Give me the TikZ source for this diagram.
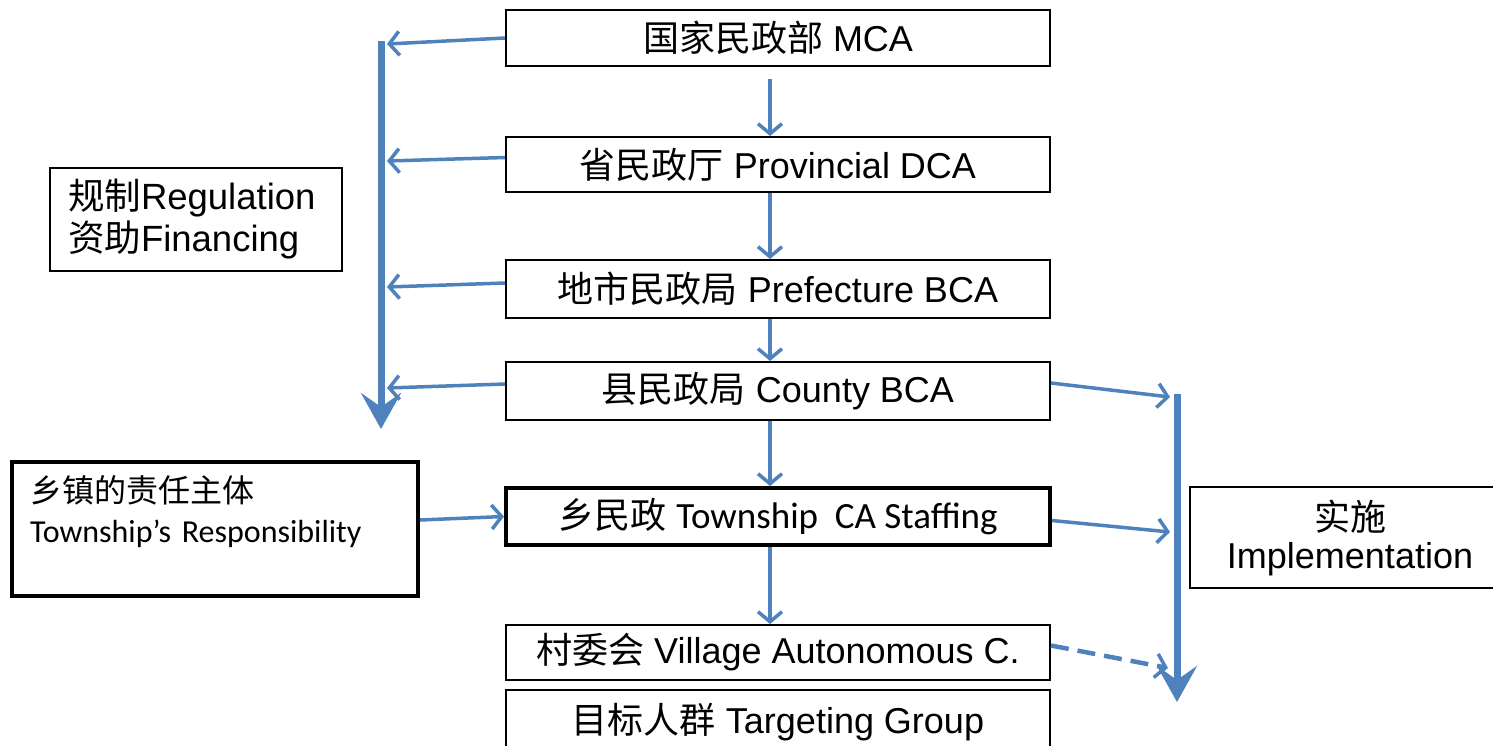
\documentclass[tikz,border=0pt]{standalone}
\usepackage{fontspec}
\setmainfont{Liberation Sans}
\newfontfamily\cjk{Noto Sans CJK SC}
\newfontfamily\calfont{Carlito}
\usetikzlibrary{arrows.meta}
\definecolor{ablue}{HTML}{4F81BD}
\begin{document}
\begin{tikzpicture}[x=1pt,y=-1pt,
  box/.style={draw, line width=2pt, minimum width=544pt, inner sep=0pt, font=\fontsize{36}{40}\selectfont},
  arr/.style={draw=ablue, line width=3.5pt, -{Straight Barb[length=10pt,width=24pt,line width=3.5pt]}},
  big/.style={draw=ablue, line width=7pt, -{Stealth[length=36pt,width=40pt,inset=14pt]}},
  sidebox/.style={draw, line width=2.2pt, inner sep=0pt}
]
\useasboundingbox (0,0) rectangle (1493,745);
% main chain
\node[box, minimum height=56pt] (mca) at (778,38) {{\cjk 国家民政部} MCA};
\node[box, minimum height=55pt] (prov) at (778,164.5) {{\cjk 省民政厅} Provincial DCA};
\node[box, minimum height=58pt] (pref) at (778,289) {{\cjk 地市民政局} Prefecture BCA};
\node[box, minimum height=58pt] (county) at (778,391) {{\cjk 县民政局} County BCA};
\node[box, line width=4pt, minimum height=57pt] (town) at (778,516.5) {{\cjk 乡民政} {\calfont\fontsize{37}{40}\selectfont Township\ \ CA Staffing}};
\node[box, minimum height=55pt] (vill) at (778,652.5) {{\cjk 村委会} Village Autonomous C.};
\node[box, minimum height=64pt] (targ) at (778,722) {{\cjk 目标人群} Targeting Group};
% side boxes
\node[sidebox, minimum width=292pt, minimum height=103pt, text width=256pt, align=left,
  font=\fontsize{36.5}{42}\selectfont] (reg) at (196,219.5)
  {{\cjk 规制}Regulation\\{\cjk 资助}Financing};
\node[sidebox, line width=4pt, minimum width=406pt, minimum height=134pt, text width=370pt, align=left,
  font=\fontsize{32}{40}\selectfont] (tresp) at (215,529)
  {{\cjk 乡镇的责任主体}\\{\calfont Township’s Responsibility}\\\mbox{}};
\node[sidebox, line width=1.8pt, minimum width=320pt, minimum height=101pt, align=center,
  font=\fontsize{36}{38}\selectfont] (impl) at (1350,537.5)
  {{\cjk 实施}\\Implementation};
% left trunk
\coordinate (lt) at (381,41);
\coordinate (lb) at (381,429);
\coordinate (l1) at (387,44);
\coordinate (l2) at (387,161);
\coordinate (l3) at (387,287);
\coordinate (l4) at (387,388);
\draw[big] (lt) -- (lb);
\draw[arr] (mca.west) -- (l1);
\draw[arr] ([yshift=7pt]prov.west) -- (l2);
\draw[arr] ([yshift=6pt]pref.west) -- (l3);
\draw[arr] ([yshift=7pt]county.west) -- (l4);
% right trunk
\coordinate (rt) at (1177,394);
\coordinate (rb) at (1177,702);
\coordinate (r1) at (1170,397);
\coordinate (r2) at (1170,532);
\coordinate (r3) at (1168,668);
\draw[big] (rt) -- (rb);
\draw[arr] ([yshift=8pt]county.east) -- (r1);
\draw[arr] ([yshift=-4pt]town.east) -- (r2);
\draw[arr, line width=4.5pt, dash pattern=on 18pt off 9pt] ([yshift=7pt]vill.east) -- (r3);
% down arrows
\draw[arr, shorten <=12pt] ([xshift=-8pt]mca.south) -- ([xshift=-8pt]prov.north);
\draw[arr] ([xshift=-8pt]prov.south) -- ([xshift=-8pt]pref.north);
\draw[arr] ([xshift=-8pt]pref.south) -- ([xshift=-8pt]county.north);
\draw[arr] ([xshift=-8pt]county.south) -- ([xshift=-8pt]town.north);
\draw[arr] ([xshift=-8pt]town.south) -- ([xshift=-8pt]vill.north);
% township responsibility
\draw[arr] ([yshift=9pt]tresp.east) -- (town.west);
\end{tikzpicture}
\end{document}
